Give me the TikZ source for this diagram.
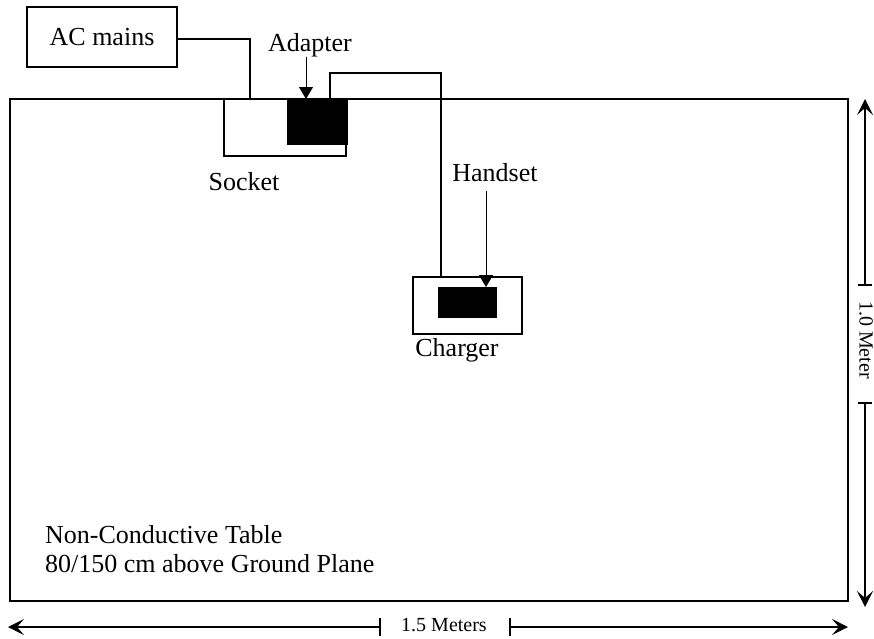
\documentclass[tikz,border=0pt]{standalone}
\usepackage{fontspec}
\setmainfont{Liberation Serif}
\usetikzlibrary{arrows.meta,positioning}
\begin{document}
\begin{tikzpicture}[x=1pt,y=-1pt,
  box/.style={draw,line width=1.4pt,inner sep=0pt,outer sep=0pt},
  blk/.style={fill=black,draw=black,inner sep=0pt,outer sep=0pt},
  lbl/.style={font=\fontsize{26}{29}\selectfont,inner sep=0pt},
  small/.style={font=\fontsize{20}{23}\selectfont,inner sep=0pt},
  wire/.style={line width=1.4pt},
  ptr/.style={line width=1pt,-{Triangle[length=12pt,width=14pt]}},
  dim/.style={line width=1.2pt,{Stealth[length=16pt,width=16pt,inset=7pt]}-},
  tick/.style={line width=1.2pt}]
\useasboundingbox (0,0) rectangle (874,638);
% table
\node[box,line width=2.8pt,minimum width=838pt,minimum height=502pt,anchor=north west] (table) at (10,99) {};
% AC mains
\node[box,minimum width=150pt,minimum height=60pt,anchor=north west] (ac) at (27,7) {};
\node[lbl] (actext) at (ac.center) {AC mains};
% socket
\node[box,fill=white,minimum width=122pt,minimum height=57pt,anchor=north west] (socket) at (224,99) {};
\node[blk,minimum width=60pt,minimum height=45pt,anchor=north west] (adapter) at (287,99) {};
\draw[line width=2.8pt] (socket.north west) -- (socket.north east);
\node[lbl] (sockettext) at (244,182) {Socket};
\node[lbl] (adaptertext) at (310,45) {Adapter};
\coordinate (adtop) at (306,57);
\draw[ptr] (adtop) -- (adtop |- adapter.north);
% wires
\coordinate (acw1) at (250,39);
\draw[wire] (ac.east |- acw1) -- (acw1) -- (acw1 |- table.north);
% charger
\node[box,minimum width=109pt,minimum height=57pt,anchor=north west] (charger) at (413,277) {};
\node[blk,minimum width=58pt,minimum height=30pt,anchor=north west] (handset) at (438,287) {};
\node[lbl] (chargertext) at (457,350) {Charger};
\node[lbl] (handsettext) at (495,173) {Handset};
\coordinate (hstop) at (486,191);
\draw[ptr] (hstop) -- (hstop |- handset.north);
\coordinate (cw1) at (330,73);
\coordinate (cw2) at (441,73);
\draw[wire] (cw1 |- adapter.north) -- (cw1) -- (cw2) -- (cw2 |- charger.north);
% table text
\node[lbl,anchor=base west] (t1) at (45,543) {Non-Conductive Table};
\node[lbl,anchor=base west] (t2) at (45,572) {80/150 cm above Ground Plane};
% bottom dimension
\node[small] (w) at (444,625) {1.5 Meters};
\coordinate (wl) at (8,627);
\coordinate (wr) at (848,627);
\coordinate (wt1) at (380,627);
\coordinate (wt2) at (510,627);
\draw[dim] (wl) -- (wt1);
\draw[dim] (wr) -- (wt2);
\draw[tick] ([yshift=-9pt]wt1) -- ([yshift=9pt]wt1);
\draw[tick] ([yshift=-9pt]wt2) -- ([yshift=9pt]wt2);
% right dimension
\node[small,rotate=-90] (h) at (866,340) {1.0 Meter};
\coordinate (ht) at (865,99);
\coordinate (hb) at (865,607);
\coordinate (ht1) at (865,285);
\coordinate (ht2) at (865,403);
\draw[dim] (ht) -- (ht1);
\draw[dim] (hb) -- (ht2);
\draw[tick] ([xshift=-7pt]ht1) -- ([xshift=7pt]ht1);
\draw[tick] ([xshift=-7pt]ht2) -- ([xshift=7pt]ht2);
\end{tikzpicture}
\end{document}
